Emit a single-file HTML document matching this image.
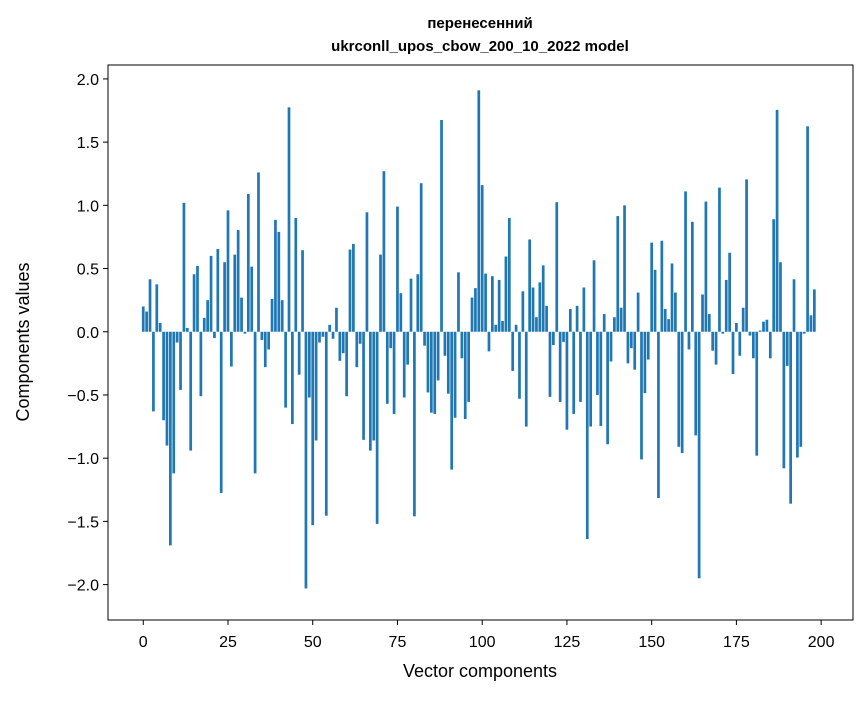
<!DOCTYPE html>
<html><head><meta charset="utf-8"><style>
body{margin:0;background:#fff;}
svg text{font-family:"Liberation Sans",sans-serif;fill:#000;}
</style></head><body>
<svg id="chart" width="867" height="696">
<text x="480" y="28" text-anchor="middle" font-size="15" font-weight="bold">перенесенний</text>
<text x="480" y="51" text-anchor="middle" font-size="15" font-weight="bold">ukrconll_upos_cbow_200_10_2022 model</text>
<g id="bars"></g>
<rect x="108" y="65" width="745" height="555" fill="none" stroke="#000" stroke-width="1"/>
<g id="xticks"></g>
<g id="yticks"></g>
<text x="480" y="677" text-anchor="middle" font-size="18">Vector components</text>
<text transform="translate(29,342) rotate(-90)" text-anchor="middle" font-size="18">Components values</text>
</svg>
<script>
const values = [
0.20,0.16,0.415,-0.63,0.375,0.07,-0.70,-0.90,-1.69,-1.12,
-0.085,-0.46,1.02,0.03,-0.94,0.455,0.52,-0.51,0.11,0.25,
0.60,-0.05,0.655,-1.275,0.55,0.96,-0.275,0.61,0.805,0.27,
-0.015,1.09,0.515,-1.12,1.26,-0.065,-0.28,-0.14,0.26,0.885,
0.79,0.25,-0.60,1.775,-0.73,0.90,-0.34,0.645,-2.03,-0.52,
-1.53,-0.86,-0.085,-0.04,-1.455,0.055,-0.055,0.19,-0.23,-0.17,
-0.51,0.65,0.695,-0.28,-0.095,-0.855,0.945,-0.94,-0.86,-1.52,
0.61,1.27,-0.57,-0.13,-0.65,0.99,0.305,-0.52,-0.26,0.42,
-1.46,0.455,1.175,-0.11,-0.48,-0.64,-0.65,-0.385,1.675,-0.19,
-0.49,-1.09,-0.68,0.47,-0.21,-0.69,-0.555,0.27,0.345,1.91,
1.16,0.46,-0.155,0.44,0.055,0.41,0.085,0.595,0.90,-0.31,
0.055,-0.53,0.32,-0.75,0.73,0.35,0.115,0.39,0.525,0.205,
-0.515,-0.105,1.025,-0.555,-0.08,-0.775,0.18,-0.65,0.205,-0.555,
0.35,-1.64,-0.75,0.565,-0.50,-0.745,0.14,-0.89,-0.235,0.115,
0.915,0.19,1.00,-0.25,-0.13,-0.30,0.31,-1.01,-0.485,-0.22,
0.705,0.49,-1.315,0.72,0.18,0.10,0.54,0.31,-0.91,-0.96,
1.11,-0.14,0.87,-0.82,-1.95,0.295,1.03,0.14,-0.15,-0.26,
1.14,-0.015,0.41,0.625,-0.335,0.07,-0.19,0.19,1.205,-0.03,
-0.21,-0.98,0.01,0.08,0.095,-0.21,0.89,1.755,0.55,-1.08,
-0.27,-1.36,0.415,-0.995,-0.91,-0.015,1.625,0.13,0.335,0.0
];
const xTickValues = [0,25,50,75,100,125,150,175,200];
const yTickValues = [-2.0,-1.5,-1.0,-0.5,0.0,0.5,1.0,1.5,2.0];
const NS="http://www.w3.org/2000/svg";
const X0=108,X1=853,Y0=65,Y1=620;
const xmin=-10.4,xmax=209.4,ymin=-2.28,ymax=2.11;
function xs(v){return X0+(v-xmin)/(xmax-xmin)*(X1-X0);}
function ys(v){return Y1-(v-ymin)/(ymax-ymin)*(Y1-Y0);}
const bars=document.getElementById('bars');
values.forEach((v,i)=>{
  const r=document.createElementNS(NS,'rect');
  const w=xs(0.8)-xs(0);
  r.setAttribute('x',xs(i)-w/2);
  r.setAttribute('width',w);
  r.setAttribute('y',Math.min(ys(v),ys(0)));
  r.setAttribute('height',Math.abs(ys(v)-ys(0)));
  r.setAttribute('fill','#1f77b4');
  
  
  bars.appendChild(r);
});
const xg=document.getElementById('xticks');
xTickValues.forEach(t=>{
  const l=document.createElementNS(NS,'line');
  l.setAttribute('x1',xs(t));l.setAttribute('x2',xs(t));
  l.setAttribute('y1',Y1);l.setAttribute('y2',Y1+5);
  l.setAttribute('stroke','#000');
  
  
  xg.appendChild(l);
  const tx=document.createElementNS(NS,'text');
  tx.setAttribute('x',xs(t));tx.setAttribute('y',Y1+27);
  tx.setAttribute('text-anchor','middle');tx.setAttribute('font-size','16');
  tx.textContent=t;
  
  
  xg.appendChild(tx);
});
const yg=document.getElementById('yticks');
yTickValues.forEach(t=>{
  const l=document.createElementNS(NS,'line');
  l.setAttribute('x1',X0-5);l.setAttribute('x2',X0);
  l.setAttribute('y1',ys(t));l.setAttribute('y2',ys(t));
  l.setAttribute('stroke','#000');
  
  
  yg.appendChild(l);
  const tx=document.createElementNS(NS,'text');
  tx.setAttribute('x',X0-9);tx.setAttribute('y',ys(t)+6);
  tx.setAttribute('text-anchor','end');tx.setAttribute('font-size','16');
  tx.textContent=(t<0?'\u2212':'')+Math.abs(t).toFixed(1);
  
  
  yg.appendChild(tx);
});
</script>
</body></html>
